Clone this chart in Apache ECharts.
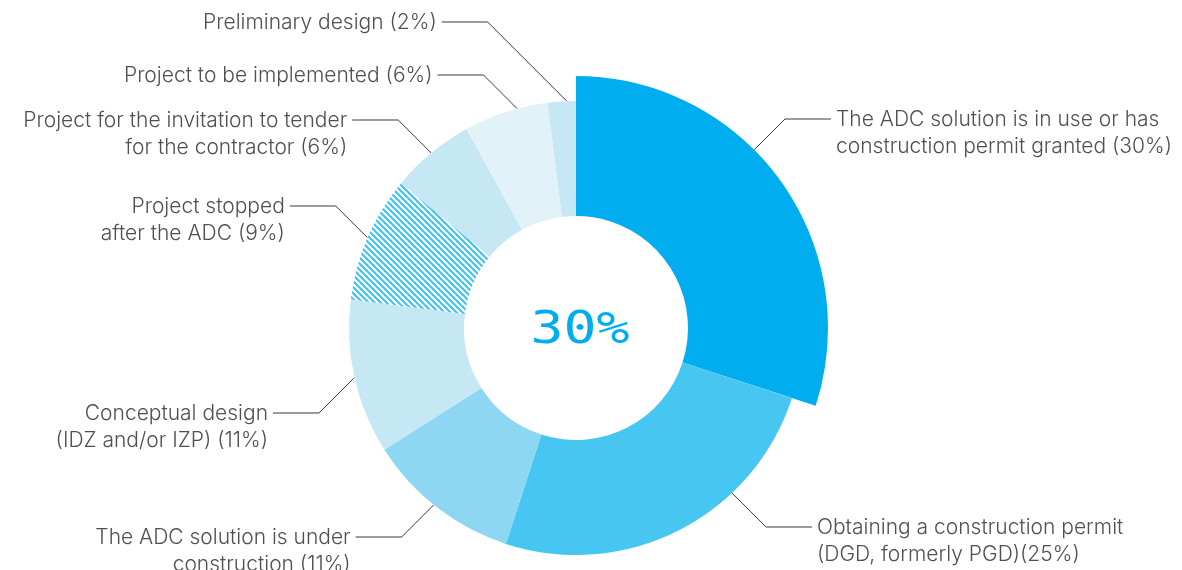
<!DOCTYPE html>
<html>
<head>
<meta charset="utf-8">
<script src="https://cdn.jsdelivr.net/npm/echarts@6/dist/echarts.min.js"></script>
<style>
  html, body { margin: 0; padding: 0; background: #ffffff; }
  #chart { width: 1182px; height: 570px; }
</style>
</head>
<body>
<div id="chart"></div>
<script>
// Project stages, clockwise from 12 o'clock
const categories = [
  'The ADC solution is in use or has\nconstruction permit granted',
  'Obtaining a construction permit\n(DGD, formerly PGD)',
  'The ADC solution is under\nconstruction',
  'Conceptual design\n(IDZ and/or IZP)',
  'Project stopped\nafter the ADC',
  'Project for the invitation to tender\nfor the contractor',
  'Project to be implemented',
  'Preliminary design'
];
// Share of projects in each stage, percent
const shares = [30, 25, 11, 11, 9, 6, 6, 2];
// The stage that is pulled out and repeated in the centre
const featured = 0;

// ---- geometry & style ----
const CX = 576, CY = 328;
const R_IN = 112, R_OUT = 227, R_FEATURED = 252;
const LINE_H = 26.5, HOOK = 46, GAP = 5;
const TEXT_COLOR = '#505050';
const LINE_COLOR = '#3a3a3a';

// diagonal hatch for the "stopped" stage
function hatch() {
  const s = 6;
  const c = document.createElement('canvas');
  c.width = s; c.height = s;
  const g = c.getContext('2d');
  g.fillStyle = '#ffffff';
  g.fillRect(0, 0, s, s);
  g.strokeStyle = '#46C1EE';
  g.lineWidth = 2.2;
  for (let k = -1; k <= 1; k++) {
    g.beginPath();
    g.moveTo(-1, k * s - 1);
    g.lineTo(s + 1, k * s + s + 1);
    g.stroke();
  }
  return { image: c, repeat: 'repeat' };
}

const sliceColors = ['#00AEEF', '#46C6F0', '#8DD7F2', '#C6E8F5', hatch(), '#C6E8F5', '#E1F2F8', '#C6E8F5'];

// leader lines: rotation of the anchor along the rim (deg) and the text row
const leaders = [
  { turn: -9,    row: 119 },
  { turn: -16.4, row: 527 },
  { turn: 1,     row: 537 },
  { turn: 0,     row: 413 },
  { turn: 0,     row: 206 },
  { turn: 0,     row: 120 },
  { turn: 3,     row: 75 },
  { turn: 1.3,   row: 22 }
];

function labelText(i) {
  const sep = i === 1 ? '' : ' ';
  return categories[i] + sep + '(' + shares[i] + '%)';
}

function placeLabel(params) {
  const pts = params.labelLinePoints;
  if (!pts || !pts[0]) return {};
  const L = leaders[params.dataIndex];
  const p0 = pts[0];
  const a = L.turn * Math.PI / 180;
  const dx = p0[0] - CX, dy = p0[1] - CY;
  const ax = CX + dx * Math.cos(a) - dy * Math.sin(a);
  const ay = CY + dx * Math.sin(a) + dy * Math.cos(a);
  const right = ax > CX;
  const d = Math.abs(ay - L.row);
  const ex = ax + (right ? d : -d);
  const hx = ex + (right ? HOOK : -HOOK);
  return {
    x: hx + (right ? GAP : -GAP),
    y: L.row - LINE_H / 2 + 1,
    align: right ? 'left' : 'right',
    verticalAlign: 'top',
    labelLinePoints: [[ax, ay], [ex, L.row], [hx, L.row]]
  };
}

const hidden = 'rgba(0,0,0,0)';

function buildData(showFeatured) {
  return shares.map(function (v, i) {
    const visible = showFeatured ? i === featured : i !== featured;
    return {
      name: categories[i],
      value: v,
      itemStyle: { color: visible ? sliceColors[i] : hidden },
      label: { show: visible },
      labelLine: { show: visible }
    };
  });
}

const labelStyle = {
  position: 'outside',
  formatter: function (p) { return labelText(p.dataIndex); },
  color: TEXT_COLOR,
  fontFamily: 'Inter, "Noto Sans", sans-serif',
  fontWeight: 300,
  fontSize: 21,
  lineHeight: LINE_H
};
const lineStyle = { show: true, lineStyle: { color: LINE_COLOR, width: 1 }, smooth: false };

const baseSeries = {
  type: 'pie',
  center: [CX, CY],
  startAngle: 90,
  clockwise: true,
  avoidLabelOverlap: false,
  minShowLabelAngle: 0,
  silent: true,
  label: labelStyle,
  labelLine: lineStyle,
  labelLayout: placeLabel,
  itemStyle: { borderWidth: 0 },
  emphasis: { disabled: true }
};

const chart = echarts.init(document.getElementById('chart'), null, { renderer: 'canvas' });
chart.setOption({
  animation: false,
  backgroundColor: '#ffffff',
  series: [
    Object.assign({}, baseSeries, { name: 'featured', radius: [R_IN, R_FEATURED], data: buildData(true) }),
    Object.assign({}, baseSeries, { name: 'stages', radius: [R_IN, R_OUT], data: buildData(false) })
  ],
  graphic: [{
    type: 'text',
    x: CX + 4,
    y: CY + 3,
    scaleX: 1.22,
    style: {
      text: shares[featured] + '%',
      fontFamily: '"DejaVu Sans Mono", monospace',
      fontSize: 45,
      fill: '#00AEEF',
      stroke: '#ffffff',
      lineWidth: 1.6,
      align: 'center',
      verticalAlign: 'middle'
    }
  }]
});
</script>
</body>
</html>
